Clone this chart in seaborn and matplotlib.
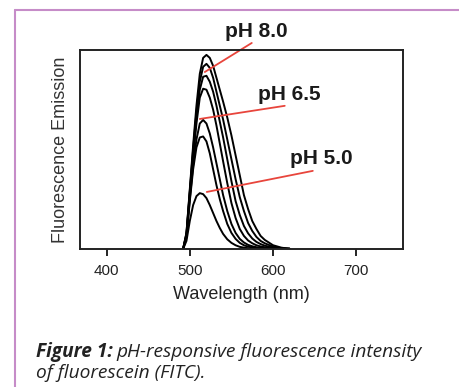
import numpy as np
import pandas as pd
import seaborn as sns
import matplotlib.pyplot as plt
from matplotlib.lines import Line2D

''' DATA '''
wavelength = [492, 496, 500, 504, 508, 512, 516, 520, 524, 528, 532, 536, 540,
              545, 550, 555, 560, 565, 570, 575, 580, 585, 590, 600, 610, 620]

# emission curves, highest (pH 8.0) to lowest (pH 5.0)
em_80 = [0, 0.08, 0.30, 0.52, 0.72, 0.88, 0.96, 0.975, 0.96, 0.92, 0.86, 0.80, 0.74,
         0.66, 0.57, 0.47, 0.37, 0.27, 0.20, 0.14, 0.10, 0.065, 0.045, 0.018, 0.006, 0]
em_75 = [0, 0.08, 0.29, 0.50, 0.69, 0.84, 0.915, 0.93, 0.91, 0.86, 0.79, 0.72, 0.65,
         0.55, 0.45, 0.35, 0.26, 0.19, 0.13, 0.09, 0.06, 0.04, 0.028, 0.011, 0.003, 0]
em_70 = [0, 0.07, 0.28, 0.48, 0.66, 0.80, 0.865, 0.87, 0.84, 0.79, 0.72, 0.64, 0.56,
         0.45, 0.34, 0.24, 0.17, 0.115, 0.078, 0.052, 0.035, 0.024, 0.016, 0.006, 0.002, 0]
em_65 = [0, 0.07, 0.27, 0.46, 0.63, 0.76, 0.805, 0.80, 0.76, 0.70, 0.62, 0.53, 0.44,
         0.33, 0.23, 0.155, 0.10, 0.065, 0.042, 0.028, 0.018, 0.012, 0.008, 0.003, 0, 0]
em_60 = [0, 0.06, 0.25, 0.42, 0.55, 0.63, 0.648, 0.63, 0.58, 0.51, 0.43, 0.35, 0.27,
         0.19, 0.125, 0.08, 0.05, 0.032, 0.02, 0.013, 0.008, 0.005, 0.003, 0, 0, 0]
em_55 = [0, 0.06, 0.24, 0.40, 0.51, 0.56, 0.565, 0.54, 0.48, 0.40, 0.32, 0.25, 0.19,
         0.125, 0.08, 0.05, 0.03, 0.018, 0.011, 0.007, 0.004, 0.002, 0, 0, 0, 0]
em_50 = [0, 0.04, 0.14, 0.22, 0.265, 0.28, 0.275, 0.255, 0.22, 0.18, 0.14, 0.105, 0.075,
         0.048, 0.03, 0.018, 0.01, 0.006, 0.003, 0.001, 0, 0, 0, 0, 0, 0]

curve_names = ['8.0', '7.5', '7.0', '6.5', '6.0', '5.5', '5.0']
curves = [em_80, em_75, em_70, em_65, em_60, em_55, em_50]

# pH labels: text, label anchor, leader line (start on curve, end at label)
ph_labels = ['pH 8.0', 'pH 6.5', 'pH 5.0']
label_xy = [(580, 1.095), (620, 0.775), (658, 0.452)]
leader_start = [(518, 0.889), (512, 0.653), (520.4, 0.286)]
leader_end = [(574.4, 1.035), (614, 0.719), (647.7, 0.392)]

x_ticks = [400, 500, 600, 700]

df = pd.concat([pd.DataFrame({'wavelength': wavelength, 'emission': c, 'pH': n})
                for n, c in zip(curve_names, curves)], ignore_index=True)

''' PLOT '''
sns.set_theme(style='white')
plt.rcParams['font.family'] = ['Liberation Sans', 'DejaVu Sans']

fig = plt.figure(figsize=(4.59, 3.87), dpi=100)
ax = fig.add_axes([0.174, 0.357, 0.704, 0.514])

sns.lineplot(data=df, x='wavelength', y='emission', hue='pH', units='pH',
             estimator=None, sort=False, palette=['black'] * 7, legend=False,
             linewidth=1.4, ax=ax)

ax.set_xlim(368, 756)
ax.set_ylim(0, 1.0)
ax.set_xticks(x_ticks)
ax.set_xticklabels([str(t) for t in x_ticks], fontsize=11, color='#222222')
ax.set_yticks([])
ax.tick_params(axis='x', direction='out', length=5, width=1.2, color='black',
               bottom=True, pad=6)
for s in ax.spines.values():
    s.set_color('#222222')
    s.set_linewidth(1.4)

ax.set_xlabel('Wavelength (nm)', fontsize=13, color='#222222', labelpad=6)
ax.set_ylabel('Fluorescence Emission', fontsize=13, color='#333333', labelpad=8)

for txt, (tx, ty), (x0, y0), (x1, y1) in zip(ph_labels, label_xy, leader_start, leader_end):
    ax.plot([x0, x1], [y0, y1], color='#e8453c', linewidth=1.3, clip_on=False)
    ax.text(tx, ty, txt, fontsize=15, fontweight='bold', color='#1a1a1a',
            ha='center', va='center', clip_on=False)

# purple frame on top and left
frame = '#c68cc8'
fig.add_artist(Line2D([15 / 459, 1], [1 - 10 / 387, 1 - 10 / 387], color=frame,
                      linewidth=1.5, transform=fig.transFigure))
fig.add_artist(Line2D([15 / 459, 15 / 459], [0, 1 - 10 / 387], color=frame,
                      linewidth=1.5, transform=fig.transFigure))

# caption
cap_font = ['Open Sans', 'DejaVu Sans']
cap_size = 13.8
t1 = fig.text(36 / 459, 1 - 357 / 387, 'Figure 1:', fontsize=cap_size, fontweight='bold',
              style='italic', family=cap_font, color='#222222')
fig.canvas.draw()
bb = t1.get_window_extent()
fig.text(bb.x1 / fig.bbox.width + 0.008, 1 - 357 / 387,
         'pH-responsive fluorescence intensity', fontsize=cap_size, style='italic',
         family=cap_font, color='#222222')
fig.text(36 / 459, 1 - 378 / 387, 'of fluorescein (FITC).', fontsize=cap_size,
         style='italic', family=cap_font, color='#222222')

fig.savefig('out.png', dpi=100, facecolor='white')
